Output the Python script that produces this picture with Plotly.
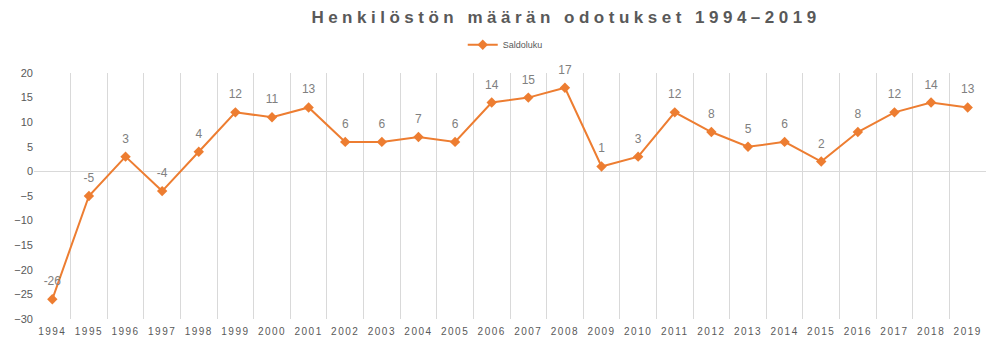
import plotly.graph_objects as go

years = [str(y) for y in range(1994, 2020)]
saldoluku = [-26, -5, 3, -4, 4, 12, 11, 13, 6, 6, 7, 6, 14, 15, 17, 1, 3, 12, 8, 5, 6, 2, 8, 12, 14, 13]
y_ticks = [-30, -25, -20, -15, -10, -5, 0, 5, 10, 15, 20]

title_text = "Henkilöstön määrän odotukset 1994–2019"
series_name = "Saldoluku"

fig = go.Figure()
fig.add_trace(go.Scatter(
    x=years, y=saldoluku, name=series_name,
    mode="lines+markers",
    line=dict(color="#ED7D31", width=2),
    marker=dict(symbol="diamond", size=8, color="#ED7D31"),
    cliponaxis=False,
))
# data labels
fig.add_trace(go.Scatter(
    x=years, y=saldoluku, showlegend=False, hoverinfo="skip",
    mode="markers+text",
    marker=dict(size=16, color="rgba(0,0,0,0)"),
    text=[str(v) for v in saldoluku],
    textposition="top center",
    textfont=dict(family="Liberation Sans, Arial", size=12, color="#808080"),
    cliponaxis=False,
))

fig.update_layout(
    width=1000, height=350,
    margin=dict(l=34, r=14, t=73, b=31),
    paper_bgcolor="white", plot_bgcolor="white",
    title=dict(
        text=f'<span style="letter-spacing:4.5px"><b>{title_text}</b></span>',
        x=0.566, xanchor="center", y=0.95, yanchor="middle",
        font=dict(family="Liberation Sans, Arial", size=17, color="#595959"),
    ),
    showlegend=True,
    legend=dict(
        orientation="h", x=0.495, xanchor="center", y=1.115, yanchor="middle",
        font=dict(family="Liberation Sans, Arial", size=9, color="#595959"),
        itemwidth=30,
    ),
    xaxis=dict(
        type="category",
        tickson="boundaries",
        showgrid=True, gridcolor="#d9d9d9", gridwidth=1,
        ticks="", showline=False, zeroline=False,
        tickmode="array", tickvals=years,
        ticktext=[f'<span style="letter-spacing:1.5px">{y}</span>' for y in years],
        tickfont=dict(family="Liberation Sans, Arial", size=10, color="#595959"),
        ticklabelstandoff=5,
        range=[-0.5, 25.5],
    ),
    yaxis=dict(
        range=[-30, 20], tickvals=y_ticks,
        showgrid=False, zeroline=True, zerolinecolor="#d9d9d9", zerolinewidth=1,
        showline=False, ticks="",
        tickfont=dict(family="Liberation Sans, Arial", size=11, color="#595959"),
    ),
)

fig.write_html("out.html")
